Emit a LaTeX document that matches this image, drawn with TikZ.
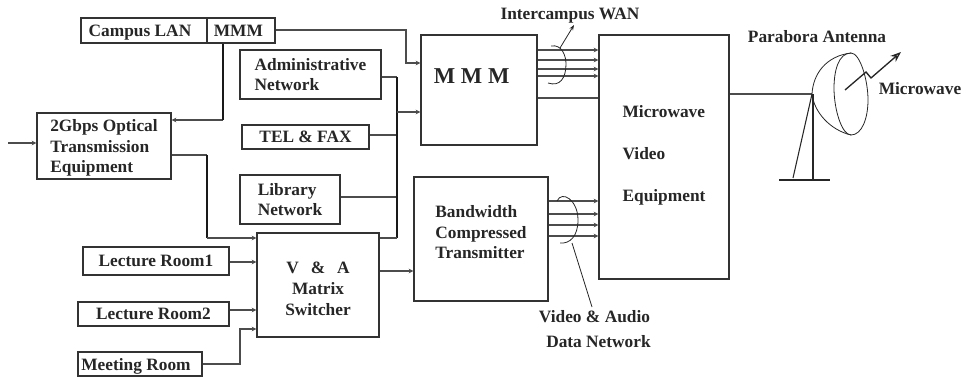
\documentclass[tikz,border=0pt]{standalone}
\usepackage{fontspec}
\setmainfont{Liberation Serif}
\usepackage{tikz}
\usetikzlibrary{arrows.meta}
\usetikzlibrary{calc}
\tikzstyle{unit}=[draw=black!80,line width=1pt,inner sep=0pt,text depth=0pt,font=\bfseries\fontsize{13}{15.5}\selectfont,text=black!85]
\tikzstyle{link} = [draw=black!70,line width=0.9pt]
\tikzstyle{feed} = [draw=black!70,line width=0.9pt,-{Stealth[length=3.5pt,width=3.5pt]}]
\tikzstyle{bus} = [draw=black!90,line width=1.1pt]
\tikzstyle{thin} = [draw=black!85,line width=0.6pt]
\tikzstyle{caption} = [font=\bfseries\fontsize{13}{18.75}\selectfont,text=black!85,inner sep=0pt,align=center]

\begin{document}
\begin{tikzpicture}[x=0.75pt,y=-0.75pt]
    \useasboundingbox (0,0) rectangle (966,378);
    % First we draw the boxes
    \foreach \pos/\boxw/\boxh/\how/\name/\txt in {
        {(144,30.5)/126/25/left/campus/{Campus LAN\hspace*{6pt}}},
        {(241,30.5)/68/25/left/mmmtag/{MMM\hspace*{4pt}}},
        {(310.5,74.5)/141/49/left/admin/{Administrative\\Network}},
        {(305.5,137)/127/24/left/telfax/TEL \& FAX},
        {(290,199.5)/100/49/left/library/{Library\\Network}},
        {(104,146)/134/66/left/optical/{2Gbps Optical\\Transmission\\Equipment}},
        {(156,261)/146/28/left/roomone/Lecture Room1},
        {(153.5,314)/151/24/left/roomtwo/Lecture Room2},
        {(140,364)/124/24/left/meeting/{Meeting Room\hspace*{6pt}}},
        {(318,285)/122/104/center/matrix/{\mbox{}\\[-1.5pt]V\hspace{9pt}\&\hspace{9pt}A\\Matrix\\Switcher}},
        {(479,90)/116/110/left/mmmbig/{\fontsize{17}{20}\selectfont M M M\hspace*{11pt}\\[6pt]\mbox{}}},
        {(481,239)/134/124/left/bandwidth/{Bandwidth\\Compressed\\Transmitter\\[-5pt]\mbox{}}},
        {(664,157)/130/244/left/micro/{Microwave\\[16pt]Video\\[16pt]Equipment\\[-9.5pt]\mbox{}}}}
            \node[unit,align=\how,minimum width=\boxw*0.75pt,minimum height=\boxh*0.75pt] (\name) at \pos {\txt};

    % Then the connectors
    \coordinate (inlet) at (8,143);
    \draw[feed] (inlet) -- (optical.west |- inlet);
    \draw[feed] (223,120) -- (optical.east |- 0,120);
    \draw[bus] (mmmtag.south -| 223,0) -- (223,120);
    \draw[feed] (mmmtag.east |- 0,30) -| (406,63) -- (mmmbig.west |- 0,63);
    \draw[link] (optical.east |- 0,155) -- (207,155);
    \draw[bus] (207,155) -- (207,238);
    \draw[feed] (207,238) -- (matrix.west |- 0,238);

    \draw[link] (admin.east |- 0,77) -- (397,77);
    \draw[link] (telfax.east |- 0,135) -- (397,135);
    \draw[link] (library.east |- 0,197) -- (397,197);
    \draw[bus] (397,77) -- (397,238);
    \draw[link] (397,238) -- (matrix.east |- 0,238);
    \draw[feed] (397,112) -- (mmmbig.west |- 0,112);

    \draw[feed] (roomone.east |- 0,262) -- (matrix.west |- 0,262);
    \draw[feed] (roomtwo.east |- 0,310) -- (matrix.west |- 0,310);
    \draw[feed] (meeting.east |- 0,364) -| (240,329) -- (matrix.west |- 0,329);
    \draw[feed] (matrix.east |- 0,271) -- (bandwidth.west |- 0,271);

    \foreach \y in {50,60,69,76}
        \path[feed] (mmmbig.east |- 0,\y) -- (micro.west |- 0,\y);
    \path[link] (mmmbig.east |- 0,98) -- (micro.west |- 0,98);
    \foreach \y in {201,214,225,236}
        \path[feed] (bandwidth.east |- 0,\y) -- (micro.west |- 0,\y);

    % The two bundles and their labels
    \node[caption] (wan) at (570,16) {Intercampus WAN};
    \node[caption] (videonet) at (594.5,329.5) {Video \& Audio\\\hspace*{6pt}Data Network};
    \node[caption] (parabora) at (817,37) {Parabora Antenna};
    \node[caption] (wave) at (920,89) {Microwave};

    \draw[thin] (551,46) .. controls (562,44) and (566,56) .. (566,64) .. controls (566,78) and (560,87) .. (548,83);
    \draw[thin,-{Stealth[length=4pt,width=3pt]}] (560,48) -- (574,25);
    \draw[thin] (557,201) .. controls (562,190) and (578,200) .. (578,220) .. controls (578,236) and (570,244) .. (560,243);
    \draw[thin] (572,243) -- (592,307);

    % Now the antenna
    \coordinate (feedpt) at (812,94);
    \draw[link,line width=1.2pt] (micro.east |- feedpt) -- (feedpt);
    \draw[thin] (851,53) .. controls (838,53) and (834,72) .. (834,88) .. controls (834,110) and (842,135) .. (851,135)
        .. controls (862,135) and (868,118) .. (868,100) .. controls (868,80) and (860,53) .. (851,53);
    \draw[thin] (851,53) .. controls (826,56) and (813,74) .. (812,94) .. controls (814,112) and (830,130) .. (851,135);
    \draw[thin,line width=0.8pt] (feedpt) -- (793,178);
    \draw[thin,line width=0.8pt] (813,94) -- (813,180);
    \draw[thin,line width=0.8pt] (779,180) -- (830,180);
    \draw[thin,line width=1pt,-{Stealth[length=8pt,width=6pt,open]}] (845,90) -- (866,72) -- (871,78) -- (901,52);
\end{tikzpicture}
\end{document}
